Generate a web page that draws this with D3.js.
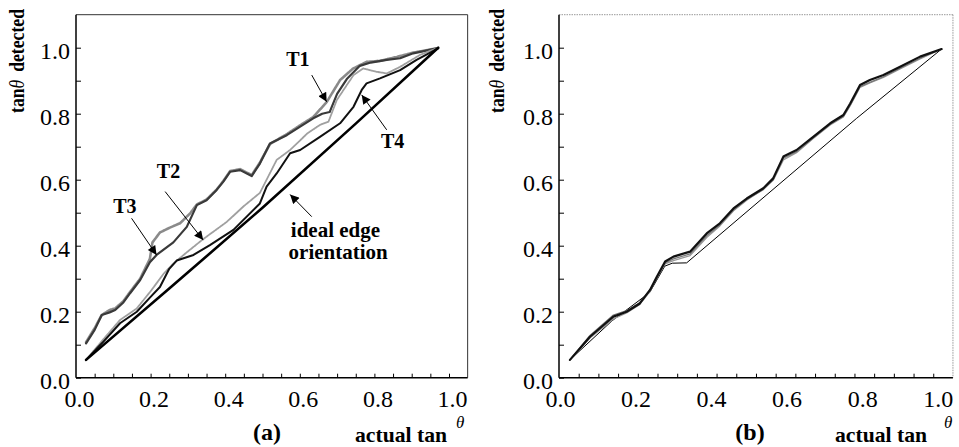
<!DOCTYPE html>
<html><head><meta charset="utf-8">
<script src="https://cdn.jsdelivr.net/npm/d3@7"></script>
<style>
body{margin:0;background:#fff;}
svg{display:block;}
text{font-family:"Liberation Serif","Times New Roman",serif;fill:#000;}
</style></head>
<body>
<svg id="c" width="959" height="447"></svg>
<script>
// ---------- DATA ----------
const majorTicks = [0, 0.2, 0.4, 0.6, 0.8, 1.0];
const majorTickLabels = ["0.0", "0.2", "0.4", "0.6", "0.8", "1.0"];
const yMinorTicks = [0, 0.1, 0.2, 0.3, 0.4, 0.5, 0.6, 0.7, 0.8, 0.9, 1.0];
const panelNames = ["(a)", "(b)"];
const seriesNamesA = ["T1", "T2", "T3", "T4", "ideal edge orientation"];

// Panel (a)
const aIdeal = [[0.027,0.054],[0.25,0.27],[0.5,0.515],[0.75,0.77],[0.971,1.0]];
const aT1 = [[0.027,0.104],[0.05,0.145],[0.069,0.19],[0.09,0.198],[0.105,0.205],[0.127,0.228],[0.145,0.256],[0.172,0.296],[0.198,0.35],[0.216,0.372],[0.261,0.41],[0.297,0.457],[0.324,0.523],[0.35,0.538],[0.377,0.569],[0.395,0.594],[0.413,0.624],[0.44,0.629],[0.471,0.611],[0.493,0.649],[0.52,0.71],[0.565,0.735],[0.601,0.761],[0.636,0.786],[0.66,0.80],[0.68,0.805],[0.70,0.86],[0.726,0.905],[0.761,0.945],[0.79,0.955],[0.833,0.963],[0.869,0.968],[0.904,0.983],[0.967,0.998]];
const aT3 = [[0.027,0.108],[0.05,0.15],[0.069,0.19],[0.09,0.205],[0.105,0.21],[0.127,0.232],[0.145,0.26],[0.172,0.3],[0.198,0.36],[0.205,0.41],[0.225,0.44],[0.252,0.455],[0.279,0.468],[0.306,0.498],[0.324,0.525],[0.35,0.54],[0.377,0.57],[0.395,0.596],[0.413,0.626],[0.44,0.632],[0.471,0.614],[0.493,0.652],[0.52,0.708],[0.565,0.738],[0.601,0.765],[0.636,0.79],[0.672,0.835],[0.708,0.902],[0.743,0.937],[0.779,0.957],[0.815,0.96],[0.86,0.972],[0.904,0.985],[0.967,0.998]];
const aT2 = [[0.027,0.054],[0.07,0.112],[0.118,0.175],[0.163,0.21],[0.2,0.262],[0.235,0.315],[0.26,0.345],[0.297,0.38],[0.341,0.42],[0.404,0.472],[0.45,0.52],[0.493,0.56],[0.538,0.66],[0.574,0.69],[0.62,0.74],[0.654,0.766],[0.677,0.776],[0.699,0.841],[0.744,0.917],[0.77,0.937],[0.806,0.927],[0.833,0.922],[0.869,0.942],[0.922,0.978],[0.967,0.998]];
const aT4 = [[0.027,0.054],[0.07,0.105],[0.118,0.165],[0.163,0.2],[0.2,0.245],[0.225,0.275],[0.25,0.33],[0.27,0.355],[0.315,0.372],[0.359,0.402],[0.422,0.448],[0.493,0.528],[0.511,0.579],[0.538,0.619],[0.574,0.68],[0.601,0.69],[0.654,0.73],[0.708,0.771],[0.744,0.821],[0.766,0.872],[0.779,0.892],[0.815,0.907],[0.869,0.932],[0.913,0.963],[0.971,0.998]];

// Panel (b)
const bMain = [[0.029,0.054],[0.082,0.124],[0.144,0.185],[0.179,0.2],[0.214,0.225],[0.241,0.266],[0.259,0.306],[0.281,0.352],[0.303,0.367],[0.347,0.382],[0.391,0.437],[0.426,0.468],[0.462,0.513],[0.497,0.543],[0.541,0.574],[0.567,0.604],[0.594,0.67],[0.629,0.69],[0.673,0.73],[0.718,0.771],[0.753,0.796],[0.771,0.831],[0.797,0.887],[0.823,0.902],[0.859,0.917],[0.903,0.942],[0.956,0.973],[1.013,0.996]];
const b2 = [[0.029,0.054],[0.082,0.128],[0.144,0.19],[0.179,0.203],[0.214,0.228],[0.241,0.266],[0.259,0.3],[0.281,0.348],[0.303,0.36],[0.347,0.375],[0.391,0.43],[0.426,0.463],[0.462,0.508],[0.497,0.54],[0.541,0.57],[0.567,0.6],[0.594,0.665],[0.629,0.685],[0.673,0.726],[0.718,0.768],[0.753,0.792],[0.771,0.826],[0.797,0.882],[0.823,0.895],[0.859,0.912],[0.903,0.938],[0.956,0.968],[1.013,0.996]];
const b3 = [[0.029,0.054],[0.082,0.12],[0.144,0.178],[0.179,0.196],[0.214,0.222],[0.241,0.262],[0.259,0.304],[0.281,0.345],[0.303,0.355],[0.347,0.37],[0.391,0.425],[0.426,0.46],[0.462,0.506],[0.497,0.538],[0.541,0.572],[0.567,0.598],[0.594,0.66],[0.629,0.682],[0.673,0.725],[0.718,0.766],[0.753,0.79],[0.771,0.824],[0.797,0.88],[0.823,0.893],[0.859,0.91],[0.903,0.936],[0.956,0.966],[1.013,0.996]];
const bIdeal = [[0.029,0.054],[0.14,0.172],[0.24,0.258],[0.28,0.338],[0.30,0.347],[0.338,0.348],[0.788,0.786],[1.013,0.996]];

// ---------- DRAW ----------
const svg = d3.select("#c");
const FONT_TICK = 24;

function panel(cfg){
  const g = svg.append("g");
  const x = d3.scaleLinear().domain([0, cfg.xmax]).range([cfg.left, cfg.right]);
  const y = d3.scaleLinear().domain([0, 1.1]).range([377.7, 14.7]);

  // top/right frame
  g.append("line").attr("x1", cfg.left).attr("x2", cfg.right).attr("y1", y(1.1)).attr("y2", y(1.1))
    .attr("stroke", cfg.frameColor).attr("stroke-width", 1).attr("stroke-dasharray", cfg.frameDash);
  g.append("line").attr("x1", cfg.right).attr("x2", cfg.right).attr("y1", y(1.1)).attr("y2", y(0))
    .attr("stroke", cfg.frameColor).attr("stroke-width", 1).attr("stroke-dasharray", cfg.frameDash);

  // Y axis
  const ya = d3.axisLeft(y).tickValues(yMinorTicks).tickSize(-5).tickSizeOuter(0).tickPadding(6)
    .tickFormat(d => { const i = majorTicks.findIndex(m => Math.abs(m - d) < 1e-9); return i >= 0 ? majorTickLabels[i] : ""; });
  const yg = g.append("g").attr("transform", `translate(${cfg.left},0)`).call(ya);
  yg.attr("font-family", null);
  yg.select(".domain").remove();
  yg.selectAll("text").attr("font-size", FONT_TICK).attr("dy", "0.45em");
  yg.selectAll("line").attr("stroke", "#000");

  // X axis (major labels)
  const xa = d3.axisBottom(x).tickValues(majorTicks).tickSize(0).tickSizeOuter(0).tickPadding(12.2)
    .tickFormat((d, i) => majorTickLabels[i]);
  const xg = g.append("g").attr("transform", `translate(0,${y(0)})`).call(xa);
  xg.attr("font-family", null);
  xg.select(".domain").remove();
  xg.selectAll("text").attr("font-size", FONT_TICK).attr("dx", cfg.labelDx);

  // X minor ticks
  const xm = d3.axisBottom(x).tickValues(cfg.xMinor).tickSize(-4).tickSizeOuter(0).tickFormat("");
  const xmg = g.append("g").attr("transform", `translate(0,${y(0)})`).call(xm);
  xmg.select(".domain").remove();

  // left/bottom frame
  g.append("line").attr("x1", cfg.left).attr("x2", cfg.left).attr("y1", y(1.1)).attr("y2", y(0))
    .attr("stroke", "#000").attr("stroke-width", 1.5);
  g.append("line").attr("x1", cfg.left).attr("x2", cfg.right).attr("y1", y(0)).attr("y2", y(0))
    .attr("stroke", "#000").attr("stroke-width", 1.5);

  // lines
  const line = d3.line().x(d => x(d[0])).y(d => y(d[1]));
  cfg.series.forEach(s => {
    g.append("path").attr("d", line(s.data)).attr("fill", "none")
      .attr("stroke", s.color).attr("stroke-width", s.width)
      .attr("stroke-dasharray", s.dash || null)
      .attr("stroke-linejoin", "round").attr("stroke-linecap", "round");
  });

  // y label
  const yl = g.append("text").attr("transform", `translate(${cfg.yLabelX},${cfg.yLabelY}) rotate(-90)`)
    .attr("text-anchor", "middle").attr("font-size", 20).attr("font-weight", "bold")
    .attr("textLength", 104).attr("lengthAdjust", "spacingAndGlyphs");
  yl.append("tspan").text("tan");
  yl.append("tspan").attr("font-style", "italic").attr("font-weight", "normal").attr("font-size", 20).text("\u03B8");
  yl.append("tspan").attr("dx", 9).text("detected");

  // x label
  g.append("text").attr("x", cfg.xLabelX).attr("y", 442).attr("font-size", 21).attr("font-weight", "bold")
    .attr("textLength", 92).attr("lengthAdjust", "spacingAndGlyphs").text("actual tan");
  g.append("text").attr("x", cfg.thetaX).attr("y", 428).attr("font-size", 17).attr("font-style", "italic").text("\u03B8");
  // panel name
  g.append("text").attr("x", cfg.nameX).attr("y", 440).attr("text-anchor", "middle")
    .attr("font-size", 24).attr("font-weight", "bold").text(cfg.name);

  return {g, x, y};
}

const xmaxA = 1.05, xmaxB = 1.043;
const pA = panel({
  left: 76, right: 76 + 373 * xmaxA, xmax: xmaxA, labelDx: 3,
  xMinor: d3.range(1, 21).map(i => i * 0.05),
  frameColor: "#333", frameDash: null,
  yLabelX: 24, yLabelY: 61, xLabelX: 355, thetaX: 456, nameX: 267, name: panelNames[0],
  series: [
    {data: aT3, color: "#8a8a8a", width: 2.6, dash: "2,0.6"},
    {data: aT1, color: "#3a3a3a", width: 2.2},
    {data: aT2, color: "#a0a0a0", width: 1.8, dash: "1.5,0.7"},
    {data: aT4, color: "#111", width: 2},
    {data: aIdeal, color: "#000", width: 2.6}
  ]
});
const pB = panel({
  left: 559, right: 559 + 377.7 * xmaxB, xmax: xmaxB, labelDx: 1,
  xMinor: d3.range(1, 20).map(i => i * xmaxB / 20),
  frameColor: "#999", frameDash: "1.5,1",
  yLabelX: 504, yLabelY: 61, xLabelX: 835, thetaX: 944, nameX: 750, name: panelNames[1],
  series: [
    {data: bIdeal, color: "#000", width: 1},
    {data: b3, color: "#999", width: 1.3},
    {data: b2, color: "#777", width: 1.3},
    {data: bMain, color: "#111", width: 2.2}
  ]
});

// annotations for panel (a)
const defs = svg.append("defs");
defs.append("marker").attr("id", "ah").attr("viewBox", "0 0 10 10").attr("refX", 10).attr("refY", 5)
  .attr("markerWidth", 11).attr("markerHeight", 9).attr("markerUnits", "userSpaceOnUse").attr("orient", "auto")
  .append("path").attr("d", "M0,0 L10,5 L0,10 Z").attr("fill", "#000");

const annA = [
  {label: seriesNamesA[0], lx: 0.595, ly: 0.944, from: [0.632, 0.917], to: [0.672, 0.836]},
  {label: seriesNamesA[1], lx: 0.248, ly: 0.605, from: [0.239, 0.564], to: [0.341, 0.417]},
  {label: seriesNamesA[2], lx: 0.131, ly: 0.499, from: [0.149, 0.483], to: [0.216, 0.372]},
  {label: seriesNamesA[3], lx: 0.849, ly: 0.696, from: [0.833, 0.751], to: [0.766, 0.857]}
];
annA.forEach(a => {
  pA.g.append("text").attr("x", pA.x(a.lx)).attr("y", pA.y(a.ly)).attr("text-anchor", "middle")
    .attr("font-size", 20).attr("font-weight", "bold").text(a.label);
  pA.g.append("line").attr("x1", pA.x(a.from[0])).attr("y1", pA.y(a.from[1]))
    .attr("x2", pA.x(a.to[0])).attr("y2", pA.y(a.to[1]))
    .attr("stroke", "#000").attr("stroke-width", 1).attr("marker-end", "url(#ah)");
});
pA.g.append("text").attr("x", pA.x(0.576)).attr("y", pA.y(0.426)).attr("font-size", 21).attr("font-weight", "bold").text("ideal edge");
pA.g.append("text").attr("x", pA.x(0.57)).attr("y", pA.y(0.36)).attr("font-size", 21).attr("font-weight", "bold").text("orientation");
pA.g.append("line").attr("x1", pA.x(0.632)).attr("y1", pA.y(0.488)).attr("x2", pA.x(0.574)).attr("y2", pA.y(0.555))
  .attr("stroke", "#000").attr("stroke-width", 1).attr("marker-end", "url(#ah)");
</script>
</body></html>
